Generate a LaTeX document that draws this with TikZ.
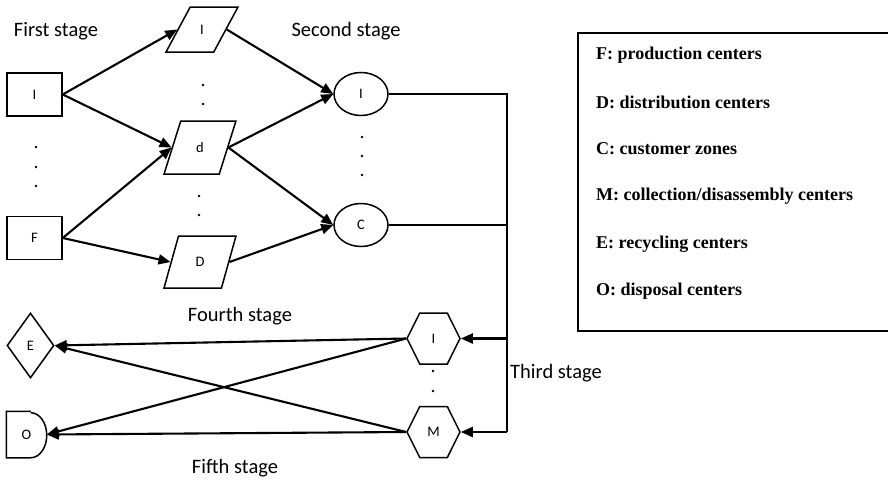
\documentclass[tikz,border=0pt]{standalone}
\usepackage{fontspec}
\newfontfamily\calfont{Carlito}
\newfontfamily\timfont{Liberation Serif}
\usetikzlibrary{shapes.geometric,shapes.symbols,arrows.meta}
\begin{document}
\begin{tikzpicture}[x=1pt,y=-1pt,
  shp/.style={draw, line width=1.5pt, inner sep=0pt, font=\calfont\fontsize{14.5}{16}\selectfont},
  boxnode/.style={shp, rectangle, minimum width=55pt, minimum height=43pt},
  para/.style={shp, trapezium, trapezium stretches=true, trapezium left angle=#1, trapezium right angle=180-#1, minimum width=72pt},
  ell/.style={shp, ellipse, minimum width=54pt, minimum height=43pt},
  hexa/.style={shp, signal, signal to=east and west, signal pointer angle=127, minimum width=53pt, minimum height=51pt},
  conn/.style={line width=2.1pt, -{Triangle[length=12pt,width=10pt]}},
  plain/.style={line width=1.4pt},
  stagelbl/.style={font=\calfont\fontsize{20.5}{22}\selectfont, inner sep=0pt},
  leg/.style={font=\timfont\bfseries\fontsize{18}{20}\selectfont, anchor=west, inner sep=0pt},
  dotm/.style={fill=black}
]
\useasboundingbox (0,0) rectangle (888,479);
% stage labels
\node[stagelbl] (s1) at (56,31) {First stage};
\node[stagelbl] (s2) at (346,31) {Second stage};
\node[stagelbl] (s3) at (556,373) {Third stage};
\node[stagelbl] (s4) at (240,316) {Fourth stage};
\node[stagelbl] (s5) at (235,468) {Fifth stage};
% first stage
\node[boxnode] (f1) at (34.5,94.5) {I};
\node[boxnode] (f2) at (34.5,238) {F};
\foreach \yy in {147,167,186} \fill[dotm] (36,\yy) circle (1.3pt);
% distribution
\node[para=68, minimum height=45pt] (d1) at (202,29.5) {I};
\node[para=72, minimum height=53pt] (d2) at (200,147.5) {d};
\node[para=72, minimum height=52pt] (d3) at (200,262) {D};
\foreach \yy in {85,104} \fill[dotm] (203,\yy) circle (1.3pt);
\foreach \yy in {196,215} \fill[dotm] (199,\yy) circle (1.3pt);
% customers
\node[ell] (c1) at (361,94) {I};
\node[ell] (c2) at (361,225) {C};
\foreach \yy in {137,156,175} \fill[dotm] (362,\yy) circle (1.3pt);
% collection
\node[hexa] (m1) at (433.5,338.5) {I};
\node[hexa] (m2) at (433.5,432) {M};
\foreach \yy in {371,391} \fill[dotm] (433,\yy) circle (1.3pt);
% recycling / disposal
\node[shp, diamond, minimum width=47pt, minimum height=65pt] (e) at (30.5,345.5) {E};
\node[shp, draw=none, rectangle, minimum width=39pt, minimum height=45pt] (o) at (26.5,434.5) {O};
\draw[line width=1.5pt] ([xshift=-16pt]o.north east) -- (o.north west) -- (o.south west) -- ([xshift=-16pt]o.south east)
  arc[start angle=-90, end angle=90, x radius=16pt, y radius=22.5pt];
% connectors stage 1 -> 2
\draw[conn] (f1.east) -- (d1.west);
\draw[conn] (f1.east) -- (d2.west);
\draw[conn] (f2.east) -- (d2.west);
\draw[conn] (f2.east) -- (d3.west);
\draw[conn] (d1.east) -- (c1.west);
\draw[conn] (d2.east) -- (c1.west);
\draw[conn] (d2.east) -- (c2.west);
\draw[conn] (d3.east) -- (c2.west);
% return lines
\coordinate (tr) at (507,94);
\coordinate (br) at (507,432);
\draw[plain] (c1.east) -- (tr) -- (br);
\draw[plain] (c2.east) -- (c2.east -| tr);
\draw[conn, line width=2.4pt] (m1.east -| tr) -- (m1.east);
\draw[conn, line width=2.4pt] (br) -- (m2.east);
% stage 4/5
\draw[conn] (m1.west) -- (e.east);
\draw[conn] (m1.west) -- (o.east);
\draw[conn] (m2.west) -- (e.east);
\draw[conn] (m2.west) -- (o.east);
% legend
\draw[line width=1.5pt] (895,33) -- (578,33) -- (578,331) -- (895,331);
\node[leg] (l1) at (596,55) {F: production centers};
\node[leg] (l2) at (596,102) {D: distribution centers};
\node[leg] (l3) at (596,149) {C: customer zones};
\node[leg] (l4) at (596,196.5) {M: collection/disassembly centers};
\node[leg] (l5) at (596,244) {E: recycling centers};
\node[leg] (l6) at (596,291) {O: disposal centers};
\end{tikzpicture}
\end{document}
